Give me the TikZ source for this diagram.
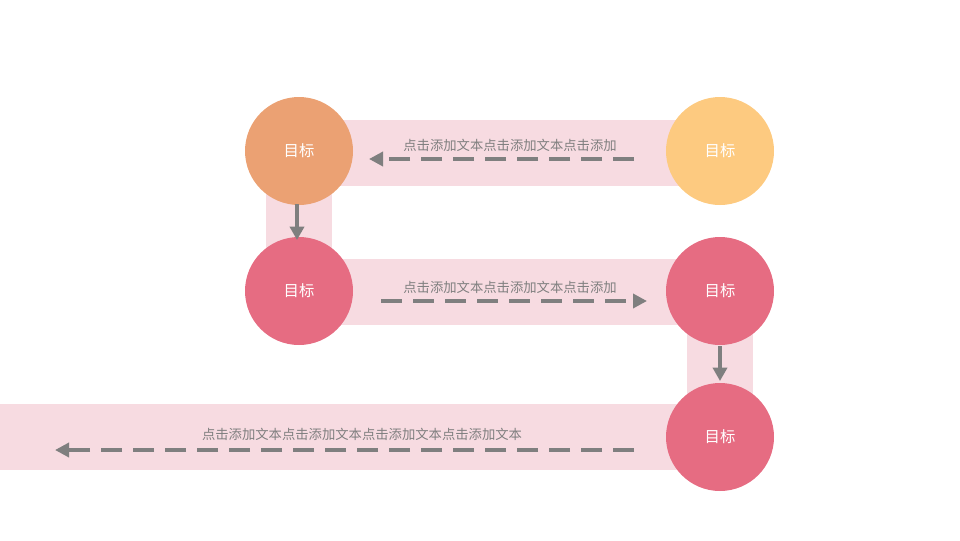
\documentclass[tikz,border=0pt]{standalone}
\usepackage{fontspec}
\setmainfont{Noto Sans CJK SC}
\usetikzlibrary{arrows.meta}
\definecolor{band}{HTML}{F7DBE1}
\definecolor{corange}{HTML}{EBA173}
\definecolor{cyellow}{HTML}{FDCA80}
\definecolor{cpink}{HTML}{E66C82}
\definecolor{agray}{HTML}{7F7F7F}
\tikzset{
  goal/.style={circle, minimum size=81pt, inner sep=0pt, text=white, font=\fontsize{11.5pt}{13pt}\selectfont},
  flow/.style={draw=agray, line width=2.6pt, dash pattern=on 15.75pt off 8.25pt, -{Triangle[length=10.5pt,width=10.5pt]}},
  vflow/.style={draw=agray, line width=2.6pt, -{Triangle[length=10pt,width=10.5pt]}},
  lbl/.style={text=agray, font=\fontsize{10pt}{12pt}\selectfont, inner sep=0pt}
}
\begin{document}
\begin{tikzpicture}[x=0.75pt,y=-0.75pt]
\useasboundingbox (0,0) rectangle (960,540);
% bands
\fill[band] (299,120) rectangle (720,186);
\fill[band] (266,151) rectangle (332,291);
\fill[band] (299,259) rectangle (720,325);
\fill[band] (687,291) rectangle (753,437);
\fill[band] (0,404) rectangle (720,470);
% circles
\node[goal, fill=corange] (c1) at (299,151) {目标};
\node[goal, fill=cyellow] (c2) at (720,151) {目标};
\node[goal, fill=cpink] (c3) at (299,291) {目标};
\node[goal, fill=cpink] (c4) at (720,291) {目标};
\node[goal, fill=cpink] (c5) at (720,437) {目标};
% labels
\node[lbl] (t1) at (510,145) {点击添加文本点击添加文本点击添加};
\node[lbl] (t2) at (510,287) {点击添加文本点击添加文本点击添加};
\node[lbl] (t3) at (362,434) {点击添加文本点击添加文本点击添加文本点击添加文本};
% arrow end points
\coordinate (a1s) at (634,159);
\coordinate (a1e) at (369,159);
\coordinate (a2s) at (381,301);
\coordinate (a2e) at (647,301);
\coordinate (a3s) at (634,450);
\coordinate (a3e) at (55,450);
\coordinate (v1s) at (297,204);
\coordinate (v1e) at (297,240);
\coordinate (v2s) at (720,346);
\coordinate (v2e) at (720,381);
\draw[flow] (a1s) -- (a1e);
\draw[flow] (a2s) -- (a2e);
\draw[flow] (a3s) -- (a3e);
\draw[vflow] (v1s) -- (v1e);
\draw[vflow] (v2s) -- (v2e);
\end{tikzpicture}
\end{document}
